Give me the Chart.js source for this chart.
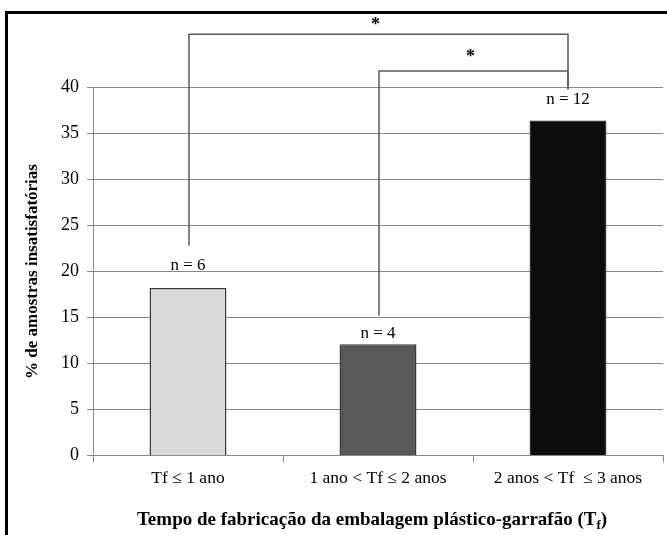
<!DOCTYPE html>
<html>
<head>
<meta charset="utf-8">
<script src="https://cdn.jsdelivr.net/npm/chart.js@4/dist/chart.umd.min.js"></script>
<style>
  body { margin: 0; background: #fff; }
</style>
</head>
<body>
<canvas id="grafico" width="667" height="535"></canvas>
<script>
// dados
const categorias = ['Tf \u2264 1 ano', '1 ano < Tf \u2264 2 anos', '2 anos < Tf  \u2264 3 anos'];
const percentuais = [18.2, 12.1, 36.4];
const rotulosN = ['n = 6', 'n = 4', 'n = 12'];
const coresBarras = ['#d9d9d9', '#595959', '#0d0d0d'];
const ticksY = [0, 5, 10, 15, 20, 25, 30, 35, 40];

// chaves de significancia: categoria inicial, final, nivel da barra horizontal e fim das pernas (em %)
const chaves = [
    { de: 0, ate: 2, topo: 45.8, pernaDe: 22.8, pernaAte: 39.8, texto: '*' },
    { de: 1, ate: 2, topo: 41.8, pernaDe: 15.2, pernaAte: 39.8, texto: '*' }
];

const fonte = "'Liberation Serif', 'Times New Roman', serif";

const anotacoes = {
    id: 'anotacoes',
    afterDatasetsDraw(chart) {
        const ctx = chart.ctx;
        const meta = chart.getDatasetMeta(0);
        const y = chart.scales.y;
        const offsetsN = [23, 11, 21];
        const offsetsEstrela = [13, 18];

        ctx.save();
        // moldura preta (esquerda e topo)
        ctx.fillStyle = '#000';
        ctx.fillRect(5, 11, 3, 524);
        ctx.fillRect(5, 11, 662, 3);

        // rotulos n = ...
        ctx.font = '17px ' + fonte;
        ctx.textAlign = 'center';
        ctx.textBaseline = 'middle';
        meta.data.forEach((bar, i) => {
            ctx.fillText(rotulosN[i], bar.x, bar.y - offsetsN[i]);
        });

        // chaves
        ctx.strokeStyle = '#595959';
        ctx.lineWidth = 1.5;
        chaves.forEach((c, k) => {
            const x1 = meta.data[c.de].x + 1;
            const x2 = meta.data[c.ate].x;
            const yt = y.getPixelForValue(c.topo);
            ctx.beginPath();
            ctx.moveTo(x1, y.getPixelForValue(c.pernaDe));
            ctx.lineTo(x1, yt);
            ctx.lineTo(x2, yt);
            ctx.lineTo(x2, y.getPixelForValue(c.pernaAte));
            ctx.stroke();
            ctx.font = 'bold 18px ' + fonte;
            ctx.textBaseline = 'middle';
            ctx.fillStyle = '#000';
            ctx.fillText(c.texto, (x1 + x2) / 2 - 3, yt - offsetsEstrela[k] + 4);
        });

        // titulo do eixo x com subscrito
        const partes = 'Tempo de fabrica\u00e7\u00e3o da embalagem pl\u00e1stico-garraf\u00e3o (T';
        ctx.font = 'bold 19px ' + fonte;
        const w1 = ctx.measureText(partes).width;
        ctx.font = 'bold 13px ' + fonte;
        const w2 = ctx.measureText('f').width;
        ctx.font = 'bold 19px ' + fonte;
        const w3 = ctx.measureText(')').width;
        const total = w1 + w2 + w3;
        const x0 = 372 - total / 2;
        ctx.textAlign = 'left';
        ctx.textBaseline = 'alphabetic';
        ctx.fillText(partes, x0, 525);
        ctx.font = 'bold 13px ' + fonte;
        ctx.fillText('f', x0 + w1, 529);
        ctx.font = 'bold 19px ' + fonte;
        ctx.fillText(')', x0 + w1 + w2, 525);
        ctx.restore();
    }
};

const ctx = document.getElementById('grafico').getContext('2d');
const grafico = new Chart(ctx, {
    type: 'bar',
    data: {
        labels: categorias,
        datasets: [{
            data: percentuais,
            backgroundColor: coresBarras,
            borderColor: '#3a3a3a',
            borderWidth: 1.5,
            barPercentage: 0.405,
            categoryPercentage: 1
        }]
    },
    options: {
        responsive: false,
        animation: false,
        layout: {
            padding: { top: 87.5, right: 4, left: 0, bottom: 0 }
        },
        plugins: {
            legend: { display: false },
            tooltip: { enabled: false }
        },
        scales: {
            x: {
                grid: {
                    drawOnChartArea: false,
                    drawTicks: true,
                    tickLength: 7,
                    color: '#868686'
                },
                border: { color: '#868686' },
                ticks: {
                    color: '#000',
                    padding: 5,
                    maxRotation: 0,
                    font: { family: fonte, size: 17.5 }
                },
                afterFit: function(scale) {
                    scale.height = 79.5;
                }
            },
            y: {
                min: 0,
                max: 40,
                afterBuildTicks: function(scale) {
                    scale.ticks = ticksY.map(v => ({ value: v }));
                },
                grid: {
                    color: '#868686',
                    tickLength: 6
                },
                border: { color: '#868686' },
                ticks: {
                    color: '#000',
                    padding: 8,
                    font: { family: fonte, size: 18 }
                },
                title: {
                    display: true,
                    text: '% de amostras insatisfat\u00f3rias',
                    color: '#000',
                    padding: { top: 22, bottom: 0 },
                    font: { family: fonte, size: 17, weight: 'bold' }
                },
                afterFit: function(scale) {
                    scale.width = 93;
                }
            }
        }
    },
    plugins: [anotacoes]
});
</script>
</body>
</html>
